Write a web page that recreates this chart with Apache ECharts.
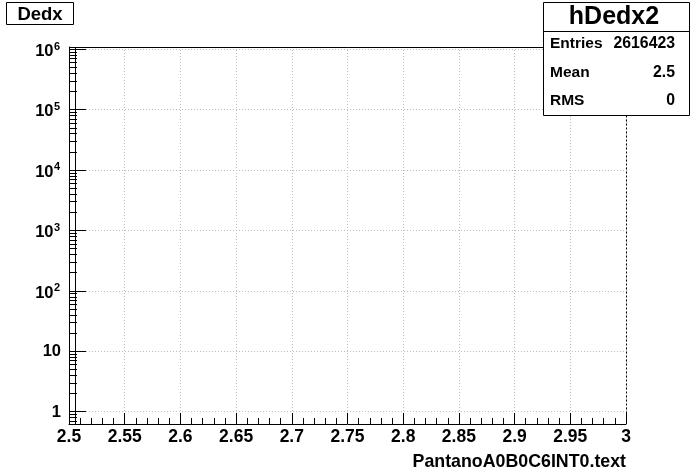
<!DOCTYPE html>
<html><head><meta charset="utf-8">
<script src="https://cdn.jsdelivr.net/npm/echarts@6/dist/echarts.min.js"></script>
<style>html,body{margin:0;padding:0;background:#fff}#c{width:696px;height:472px}</style>
</head><body><div id="c"></div>
<script>
// ---- data ----
const xMin = 2.5, xMax = 3.0, xStep = 0.05;
const yMin = 0.621, yMax = 1.08e6;
const yDecades = [1, 10, 100, 1000, 10000, 100000, 1000000];
const yLabelMain = ['1', '10', '10', '10', '10', '10', '10'];
const yLabelSup = ['', '', '2', '3', '4', '5', '6'];
const yMinorBases = [0.1, 1, 10, 100, 1000, 10000, 100000];
const yMinorSteps = [2, 3, 4, 5, 6, 7, 8, 9];
const binLow = [2.5];
const binHigh = [2.505];
const binCounts = [2616423];
const histTitle = 'Dedx';
const statName = 'hDedx2';
const statLabels = ['Entries', 'Mean', 'RMS'];
const statValues = ['2616423', '2.5', '0'];
const xTitle = 'PantanoA0B0C6INT0.text';

const FONT = '"Liberation Sans", Arial, Helvetica, sans-serif';
const GRIDC = '#bdbdbd';

// tick list for y (value, length)
const yTicks = [];
yDecades.forEach(v => yTicks.push([xMin, v, 17]));
yMinorBases.forEach(b => yMinorSteps.forEach(k => {
  const v = k * b;
  if (v >= yMin && v <= yMax) yTicks.push([xMin, v, 8]);
}));

const chart = echarts.init(document.getElementById('c'), null, {renderer: 'canvas'});
const option = {
  animation: false,
  backgroundColor: '#fff',
  grid: {left: 69, right: 70, top: 47, bottom: 48, containLabel: false},
  xAxis: {
    type: 'value', min: xMin, max: xMax, interval: xStep,
    axisLine: {show: true, onZero: false, lineStyle: {color: '#000', width: 1}},
    axisTick: {show: true, inside: true, length: 11, lineStyle: {color: '#000'}},
    minorTick: {show: true, splitNumber: 5, length: 6, lineStyle: {color: '#000'}},
    splitLine: {show: true, lineStyle: {color: GRIDC, type: [1, 2], width: 1}},
    minorSplitLine: {show: false},
    axisLabel: {show: true, color: '#000', fontFamily: FONT, fontWeight: 'bold', fontSize: 17.5, margin: 4,
      showMinLabel: true, showMaxLabel: true, hideOverlap: false,
      formatter: v => String(+v.toFixed(2))}
  },
  yAxis: {
    type: 'log', min: yMin, max: yMax, logBase: 10,
    axisLine: {show: true, lineStyle: {color: '#000', width: 1}},
    axisTick: {show: false}, minorTick: {show: false},
    axisLabel: {show: false}, splitLine: {show: false}
  },
  series: [
    { // y grid lines
      type: 'custom', silent: true, z: 1,
      data: yDecades.map(v => [xMin, v]),
      renderItem: (params, api) => {
        const a = api.coord([xMin, api.value(1)]);
        const b = api.coord([xMax, api.value(1)]);
        const y = Math.round(a[1]) + 0.5;
        return {type: 'line', shape: {x1: a[0] + 17, y1: y, x2: b[0], y2: y},
          style: {stroke: GRIDC, lineWidth: 1, lineDash: [1, 2]}};
      }
    },
    { // y ticks
      type: 'custom', silent: true, z: 5,
      data: yTicks,
      renderItem: (params, api) => {
        const a = api.coord([api.value(0), api.value(1)]);
        const y = Math.round(a[1]) + 0.5;
        return {type: 'line', shape: {x1: a[0], y1: y, x2: a[0] + api.value(2), y2: y},
          style: {stroke: '#000', lineWidth: 1}};
      }
    },
    { // y labels
      type: 'custom', silent: true, z: 5, clip: false,
      data: yDecades.map((v, i) => [xMin, v, i]),
      renderItem: (params, api) => {
        const i = api.value(2);
        const a = api.coord([xMin, api.value(1)]);
        const main = yLabelMain[i], sup = yLabelSup[i];
        if (!sup) {
          return {type: 'text', style: {text: main, x: a[0] - 8, y: a[1] + 0.5, align: 'right', verticalAlign: 'middle',
            fill: '#000', font: 'bold 16.5px ' + FONT}};
        }
        return {type: 'group', children: [
          {type: 'text', style: {text: main, x: a[0] - 15.5, y: a[1] + 2.5, align: 'right', verticalAlign: 'middle',
            fill: '#000', font: 'bold 16.5px ' + FONT}},
          {type: 'text', style: {text: sup, x: a[0] - 15, y: a[1] - 2.5, align: 'left', verticalAlign: 'middle',
            fill: '#000', font: 'bold 11px ' + FONT}}
        ]};
      }
    },
    { // histogram
      type: 'custom', silent: true, z: 4, clip: true,
      data: binCounts.map((c, i) => [binLow[i], c, binHigh[i]]),
      renderItem: (params, api) => {
        const lo = api.value(0), c = Math.min(api.value(1), yMax), hi = api.value(2);
        const p0 = api.coord([lo, yMin]), p1 = api.coord([lo, c]), p2 = api.coord([hi, c]), p3 = api.coord([hi, yMin]);
        const xs = v => Math.round(v) + 0.5;
        return {type: 'polyline', shape: {points: [[xs(p0[0]), p0[1]], [xs(p1[0]), p1[1]], [xs(p2[0]), p2[1]], [xs(p3[0]), p3[1]]]},
          style: {stroke: '#000', lineWidth: 1, fill: null}};
      }
    },
    { // frame top + right
      type: 'custom', silent: true, z: 6, clip: false,
      data: [[xMax, yMax]],
      renderItem: (params, api) => {
        const tl = api.coord([xMin, yMax]), tr = api.coord([xMax, yMax]), br = api.coord([xMax, yMin]);
        const y = Math.round(tl[1]) + 0.5, x = Math.round(tr[0]) + 0.5;
        return {type: 'group', children: [
          {type: 'line', shape: {x1: tl[0], y1: y, x2: x, y2: y}, style: {stroke: '#000', lineWidth: 1}},
          {type: 'line', shape: {x1: x, y1: y, x2: x, y2: br[1]}, style: {stroke: '#000', lineWidth: 1, lineDash: [2, 2]}}
        ]};
      }
    }
  ],
  graphic: [
    {type: 'rect', shape: {x: 6.5, y: 2.5, width: 67, height: 22}, style: {fill: '#fff', stroke: '#000', lineWidth: 1}, z: 10},
    {type: 'text', style: {text: histTitle, x: 40, y: 14.5, align: 'center', verticalAlign: 'middle', fill: '#000', font: 'bold 18.5px ' + FONT}, z: 11},
    {type: 'rect', shape: {x: 543.5, y: 2.5, width: 146, height: 113}, style: {fill: '#fff', stroke: '#000', lineWidth: 1}, z: 10},
    {type: 'line', shape: {x1: 543.5, y1: 31.5, x2: 689.5, y2: 31.5}, style: {stroke: '#000', lineWidth: 1}, z: 11},
    {type: 'text', style: {text: statName, x: 614, y: 17, align: 'center', verticalAlign: 'middle', fill: '#000', font: 'bold 25px ' + FONT}, z: 11},
    {type: 'text', style: {text: statLabels[0], x: 550, y: 44, align: 'left', verticalAlign: 'middle', fill: '#000', font: 'bold 15.5px ' + FONT}, z: 11},
    {type: 'text', style: {text: statValues[0], x: 675, y: 44, align: 'right', verticalAlign: 'middle', fill: '#000', font: 'bold 15.8px ' + FONT}, z: 11},
    {type: 'text', style: {text: statLabels[1], x: 550, y: 72.5, align: 'left', verticalAlign: 'middle', fill: '#000', font: 'bold 15.5px ' + FONT}, z: 11},
    {type: 'text', style: {text: statValues[1], x: 675, y: 72.5, align: 'right', verticalAlign: 'middle', fill: '#000', font: 'bold 15.8px ' + FONT}, z: 11},
    {type: 'text', style: {text: statLabels[2], x: 550, y: 101, align: 'left', verticalAlign: 'middle', fill: '#000', font: 'bold 15.5px ' + FONT}, z: 11},
    {type: 'text', style: {text: statValues[2], x: 675, y: 101, align: 'right', verticalAlign: 'middle', fill: '#000', font: 'bold 15.8px ' + FONT}, z: 11},
    {type: 'text', style: {text: xTitle, x: 626, y: 462.5, align: 'right', verticalAlign: 'middle', fill: '#000', font: 'bold 17.8px ' + FONT}, z: 11}
  ]
};
chart.setOption(option);
</script></body></html>
